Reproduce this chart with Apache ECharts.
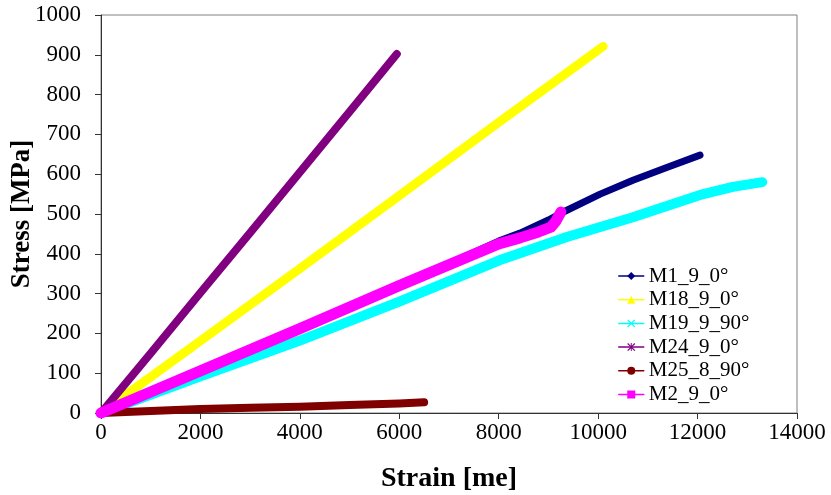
<!DOCTYPE html>
<html>
<head>
<meta charset="utf-8">
<script src="https://cdn.jsdelivr.net/npm/echarts@6/dist/echarts.min.js"></script>
<style>
html,body{margin:0;padding:0;background:#fff;}
#chart{width:831px;height:495px;}
</style>
</head>
<body>
<div id="chart"></div>
<script>
// Data: [strain (me), stress (MPa)]
var seriesNames = ['M1_9_0°', 'M18_9_0°', 'M19_9_90°', 'M24_9_0°', 'M25_8_90°', 'M2_9_0°'];
var m1 = [[0,0],[2000,106],[4000,213],[6000,321],[7000,375],[8000,432],[8430,452],[9000,485],[9300,505],[10040,550],[10700,585],[11380,617],[12050,648]];
var m18 = [[0,0],[2000,181],[4000,363],[6000,546],[8000,730],[10100,921]];
var m19 = [[0,0],[2000,92],[4000,182],[6000,280],[8000,383],[9370,442],[10700,492],[12050,548],[12710,568],[13300,580]];
var m24 = [[0,0],[1000,150],[2000,302],[3000,453],[4000,605],[5000,757],[5950,902]];
var m25 = [[0,0],[1000,5],[2000,10],[3000,13],[4000,16],[5000,20],[6000,24],[6500,27]];
var m2 = [[0,0],[2000,106],[4000,212],[6000,320],[8000,425],[8430,440],[8800,455],[9050,467],[9150,482],[9250,505]];
var xTicks = {min: 0, max: 14000, interval: 2000};
var yTicks = {min: 0, max: 1000, interval: 100};

var seriesData = [m1, m18, m19, m24, m25, m2];
var colors = ['#000080', '#FFFF00', '#00FFFF', '#800080', '#800000', '#FF00FF'];
var widths = [7, 9, 10, 8, 8, 11];
var crossPath = 'path://M1,0 L5,4 L9,0 L10,1 L6,5 L10,9 L9,10 L5,6 L1,10 L0,9 L4,5 L0,1 Z';
var starPath = 'path://M1,0 L5,4 L9,0 L10,1 L6,5 L10,9 L9,10 L5,6 L1,10 L0,9 L4,5 L0,1 Z M4.4,0 L5.6,0 L5.6,10 L4.4,10 Z';
var symbols = ['diamond', 'triangle', crossPath, starPath, 'circle', 'rect'];

var FONT = '"Liberation Serif", "Times New Roman", serif';

var series = seriesNames.map(function (n, i) {
  return {
    name: n,
    type: 'line',
    data: seriesData[i],
    symbol: symbols[i],
    showSymbol: false,
    clip: false,
    smooth: false,
    lineStyle: {color: colors[i], width: widths[i], cap: 'round', join: 'round'},
    itemStyle: {color: colors[i]},
    emphasis: {disabled: true},
    animation: false
  };
});

function plain(v) { return String(v); }

var chart = echarts.init(document.getElementById('chart'), null, {renderer: 'canvas'});
chart.setOption({
  backgroundColor: '#fff',
  animation: false,
  grid: {left: 101, right: 34, top: 15, bottom: 82, show: true, borderColor: '#808080', borderWidth: 1, containLabel: false, outerBoundsMode: 'none'},
  legend: {
    orient: 'vertical',
    left: 618,
    top: 265,
    padding: 0,
    itemWidth: 25,
    itemHeight: 10,
    itemGap: 1.7,
    data: seriesNames,
    lineStyle: {width: 1.5},
    textStyle: {fontFamily: FONT, fontSize: 21, color: '#000', lineHeight: 22}
  },
  xAxis: {
    type: 'value',
    min: xTicks.min, max: xTicks.max, interval: xTicks.interval,
    name: 'Strain [me]',
    nameLocation: 'middle',
    nameGap: 52,
    nameMoveOverlap: false,
    nameTextStyle: {fontFamily: FONT, fontSize: 28, fontWeight: 'bold', color: '#000'},
    axisLine: {show: true, onZero: false, lineStyle: {color: '#333', width: 1}},
    axisTick: {show: true, inside: false, length: 6, lineStyle: {color: '#333'}},
    axisLabel: {fontFamily: FONT, fontSize: 23, color: '#000', margin: 8, formatter: plain},
    splitLine: {show: false}
  },
  yAxis: {
    type: 'value',
    min: yTicks.min, max: yTicks.max, interval: yTicks.interval,
    name: 'Stress [MPa]',
    nameLocation: 'middle',
    nameGap: 65,
    nameMoveOverlap: false,
    nameRotate: 90,
    nameTextStyle: {fontFamily: FONT, fontSize: 27, fontWeight: 'bold', color: '#000'},
    axisLine: {show: true, lineStyle: {color: '#333', width: 1}},
    axisTick: {show: true, inside: false, length: 6, lineStyle: {color: '#333'}},
    axisLabel: {fontFamily: FONT, fontSize: 23, color: '#000', margin: 20, formatter: plain},
    splitLine: {show: false}
  },
  series: series
});
</script>
</body>
</html>
